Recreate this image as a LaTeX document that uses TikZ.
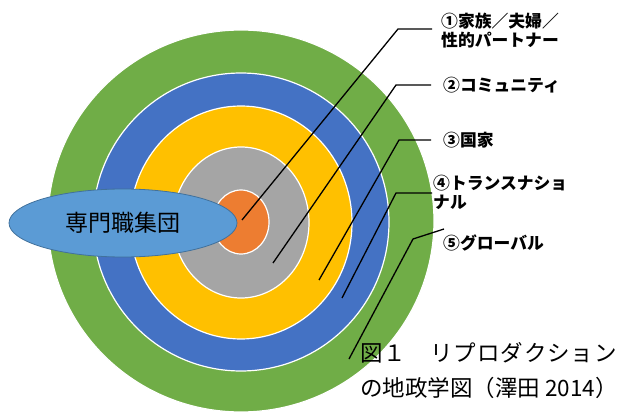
\documentclass[tikz,border=0pt]{standalone}
\usepackage{fontspec}
\usetikzlibrary{shapes.geometric}
\newfontfamily\jp{Noto Sans CJK JP}
\definecolor{cGreen}{HTML}{70AD47}
\definecolor{cBlue}{HTML}{4472C4}
\definecolor{cYellow}{HTML}{FFC000}
\definecolor{cGray}{HTML}{A5A5A5}
\definecolor{cOrange}{HTML}{ED7D31}
\definecolor{cLight}{HTML}{5B9BD5}
\definecolor{cLightEdge}{HTML}{41719C}
\begin{document}
\begin{tikzpicture}[x=1pt,y=-1pt,
  ring/.style={ellipse, draw=white, line width=1.2pt, inner sep=0pt, outer sep=0pt},
  leader/.style={draw=black, line width=1.3pt},
  lab/.style={anchor=west, inner sep=0pt, align=left, text=black,
    font=\jp\bfseries\fontsize{16.8}{19.5}\selectfont},
  caption/.style={anchor=north west, inner sep=0pt, align=left, text=black,
    font=\jp\fontsize{22.5}{35}\selectfont}]
\useasboundingbox (0,0) rectangle (622,412);
\begin{scope}
\clip (0,0) rectangle (622,412);
\node[ring, fill=cGreen, minimum width=386pt, minimum height=382pt] (global) at (241,221) {};
\node[ring, fill=cBlue, minimum width=296pt, minimum height=298pt] (trans) at (241,222) {};
\node[ring, fill=cYellow, minimum width=222pt, minimum height=233pt] (nation) at (241,222.5) {};
\node[ring, fill=cGray, minimum width=136pt, minimum height=151pt] (community) at (241,222.5) {};
\node[ring, fill=cOrange, minimum width=56pt, minimum height=64pt] (family) at (241,222) {};
\end{scope}
\node[ellipse, fill=cLight, draw=cLightEdge, line width=0.8pt, inner sep=0pt,
  minimum width=228pt, minimum height=68pt,
  font=\jp\fontsize{23}{25}\selectfont] (prof) at (123,223) {専門職集団};
% leader coordinates
\coordinate (s1) at (242,220); \coordinate (k1) at (398,29);  \coordinate (e1) at (432,29);
\coordinate (s2) at (273,263); \coordinate (k2) at (396,85);  \coordinate (e2) at (431,85);
\coordinate (s3) at (319,280); \coordinate (k3) at (399,140); \coordinate (e3) at (431,140);
\coordinate (s4) at (342,298); \coordinate (k4) at (396,193); \coordinate (e4) at (432,193);
\coordinate (s5) at (349,359); \coordinate (k5) at (413,239); \coordinate (e5) at (444,229);
\draw[leader] (s1) -- (k1) -- (e1);
\draw[leader] (s2) -- (k2) -- (e2);
\draw[leader] (s3) -- (k3) -- (e3);
\draw[leader] (s4) -- (k4) -- (e4);
\draw[leader] (s5) -- (k5) -- (e5);
% labels
\node[lab] (l1) at (441,30.5) {①家族／夫婦／\\性的パートナー};
\node[lab] (l2) at (443,85) {②コミュニティ};
\node[lab] (l3) at (443,140) {③国家};
\node[lab] (l4) at (433,192.5) {④トランスナショ\\ナル};
\node[lab] (l5) at (443,243) {⑤グローバル};
\node[caption] (cap) at (360,342) {{\addfontfeature{LetterSpace=4}図１　リプロダクション}\\の地政学図（澤田 2014）};
\end{tikzpicture}
\end{document}
